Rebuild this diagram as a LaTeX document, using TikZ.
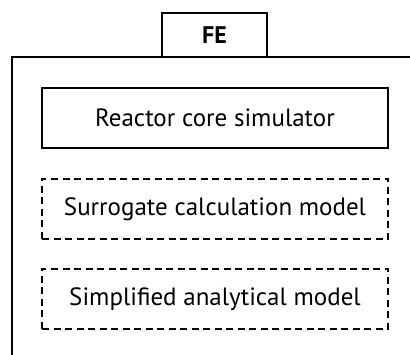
\documentclass[tikz,border=0pt]{standalone}
\usepackage{fontspec}
\setmainfont{PT Sans}
\begin{document}
\begin{tikzpicture}[x=1pt,y=-1pt,
  line width=1.4pt,
  solidbox/.style={draw, minimum width=346pt, minimum height=60pt, inner sep=0pt, font=\fontsize{25}{30}\selectfont},
  dashbox/.style={solidbox, dash pattern=on 7pt off 4.5pt},
  tab/.style={draw, minimum width=105pt, minimum height=44pt, inner sep=0pt, font=\bfseries\fontsize{24}{28}\selectfont}]
\useasboundingbox (0,0) rectangle (410,355);
\coordinate (bl) at (12,356);
\coordinate (tl) at (12,57);
\coordinate (tr) at (411,57);
\draw (bl) -- (tl) -- (tr);
\node[tab, fill=white] (fe) at (214.5,35) {FE};
\node[solidbox] (rcs) at (215,118) {Reactor core simulator};
\node[dashbox] (scm) at (215,209) {Surrogate calculation model};
\node[dashbox] (sam) at (215,299) {Simplified analytical model};
\end{tikzpicture}
\end{document}
